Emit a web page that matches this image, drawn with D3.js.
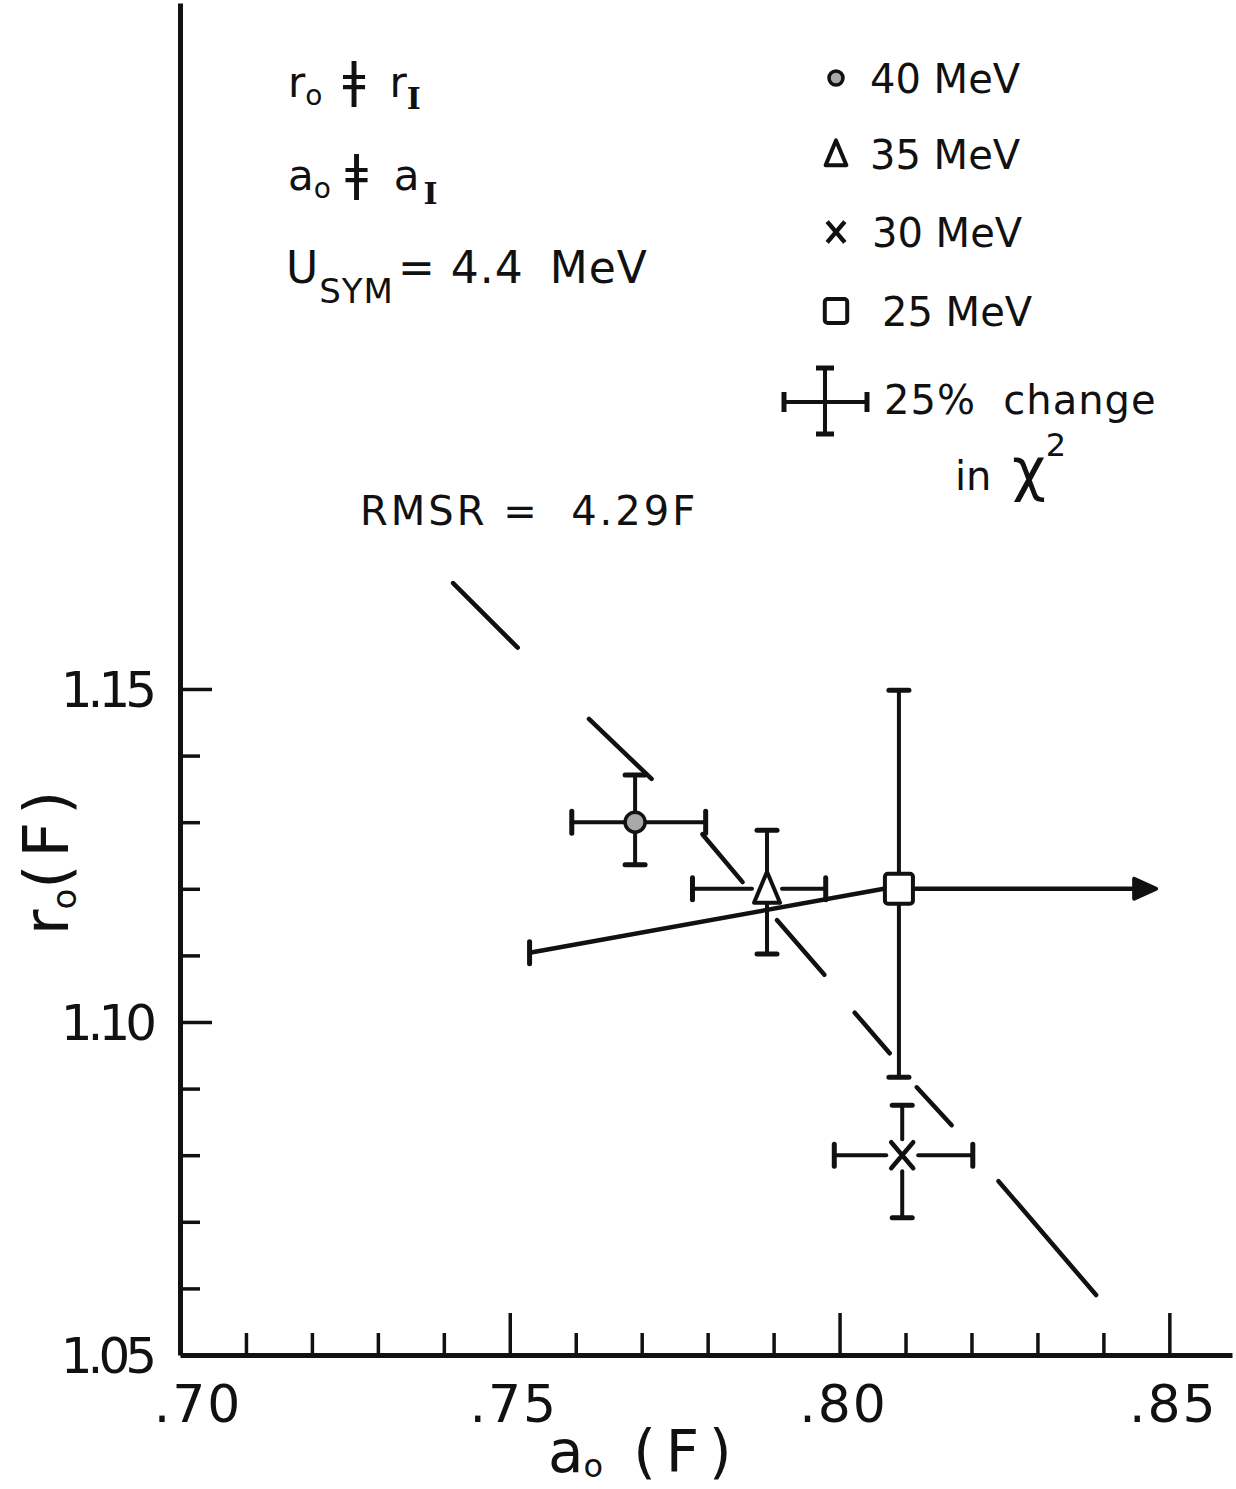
<!DOCTYPE html>
<html>
<head>
<meta charset="utf-8">
<script src="https://cdn.jsdelivr.net/npm/d3@7"></script>
<style>
  body { margin: 0; background: #fff; }
  text { font-family: "DejaVu Sans", sans-serif; fill: #111; }
</style>
</head>
<body>
<div id="chart"></div>
<script>
// best-fit points, one per beam energy
var energies = ['40 MeV', '35 MeV', '30 MeV', '25 MeV'];
var symbols  = ['circle', 'triangle', 'cross', 'square'];
var a0       = [0.769, 0.789, 0.8095, 0.809];
var r0       = [1.130, 1.120, 1.080, 1.120];
// 25% change in chi^2 limits
var a0Lo     = [0.7594, 0.7777, 0.7992, 0.753];
var a0Hi     = [0.7797, 0.7979, 0.8202, 0.848];
var r0Lo     = [1.1236, 1.1102, 1.0706, 1.0917];
var r0Hi     = [1.1371, 1.1288, 1.0875, 1.1498];
var r0AtA0Lo = [1.130, 1.120, 1.080, 1.1104];   // left limit of 25 MeV is tilted
var openHigh = [false, false, false, true];     // 25 MeV upper a0 limit not reached

// constant RMSR = 4.29 F line, hand dashed
var rmsrA0 = [[0.7414, 0.7512], [0.7620, 0.7715], [0.7792, 0.7853], [0.7905, 0.7977],
              [0.8023, 0.8076], [0.8117, 0.8170], [0.8241, 0.8389]];
var rmsrR0 = [[1.1659, 1.1562], [1.1455, 1.1365], [1.1282, 1.1210], [1.1153, 1.1071],
              [1.1014, 1.0953], [1.0902, 1.0845], [1.0761, 1.0590]];

var xMinor = d3.range(71, 86).map(d => d / 100).filter(d => Math.round(d * 100) % 5 != 0);
var xMajor = [0.75, 0.80, 0.85];
var xLabels = [0.70, 0.75, 0.80, 0.85];
var yMinor = [1.06, 1.07, 1.08, 1.09, 1.11, 1.12, 1.13, 1.14];
var yMajor = [1.10, 1.15];
var yLabels = [1.05, 1.10, 1.15];

var width = 1236, height = 1489;
var svg = d3.select('#chart').append('svg')
    .attr('width', width)
    .attr('height', height);

var xScale = d3.scaleLinear().domain([0.70, 0.8595]).range([180, 1232]);
var yScale = d3.scaleLinear().domain([1.05, 1.253]).range([1355, 3]);
var x0 = 1355;

function styleAxis(g, w) {
  g.select('.domain').attr('stroke', '#111').attr('stroke-width', w);
  g.selectAll('.tick line').attr('stroke', '#111').attr('stroke-width', 3.5);
}

// x axis: minor ticks, major ticks, labels
svg.append('g')
    .attr('transform', `translate(0,${x0})`)
    .call(d3.axisBottom(xScale).tickValues(xMinor).tickSize(-22).tickSizeOuter(0).tickFormat(''))
    .call(g => styleAxis(g, 5));
svg.append('g')
    .attr('transform', `translate(0,${x0})`)
    .call(d3.axisBottom(xScale).tickValues(xMajor).tickSize(-42).tickSizeOuter(0).tickFormat(''))
    .call(g => g.select('.domain').remove())
    .call(g => styleAxis(g, 5));
svg.append('g')
    .selectAll('text')
    .data(xLabels)
    .enter()
    .append('text')
    .attr('x', (d, i) => xScale(d) + (i == 0 ? 18 : 4))
    .attr('y', 1422)
    .attr('text-anchor', 'middle')
    .attr('font-size', 52)
    .attr('letter-spacing', 2)
    .text(d => d3.format('.2f')(d).replace('0.', '.'));

// y axis
svg.append('g')
    .attr('transform', `translate(${xScale(0.70)},0)`)
    .call(d3.axisLeft(yScale).tickValues(yMinor).tickSize(-20).tickSizeOuter(0).tickFormat(''))
    .call(g => styleAxis(g, 5));
svg.append('g')
    .attr('transform', `translate(${xScale(0.70)},0)`)
    .call(d3.axisLeft(yScale).tickValues(yMajor).tickSize(-32).tickSizeOuter(0).tickFormat(''))
    .call(g => g.select('.domain').remove())
    .call(g => styleAxis(g, 5));
svg.append('g')
    .selectAll('text')
    .data(yLabels)
    .enter()
    .append('text')
    .attr('x', 152)
    .attr('y', d => yScale(d) + 18)
    .attr('text-anchor', 'end')
    .attr('font-size', 50)
    .attr('letter-spacing', -5)
    .text(d => d3.format('.2f')(d));

// axis titles
var xt = svg.append('text')
    .attr('x', 548).attr('y', 1472)
    .attr('font-size', 58);
xt.append('tspan').text('a');
xt.append('tspan').attr('font-size', 32).attr('dy', 5).text('o');
xt.append('tspan').attr('dy', -5).attr('dx', 30).attr('letter-spacing', 10).text('(F)');

var yt = svg.append('text')
    .attr('transform', 'translate(68,935) rotate(-90)')
    .attr('font-size', 62);
yt.append('tspan').text('r');
yt.append('tspan').attr('font-size', 34).attr('dy', 8).text('o');
yt.append('tspan').attr('dy', -8).attr('letter-spacing', 7).text('(F)');

// dashed RMSR line
var plot = svg.append('g').attr('stroke', '#111').attr('stroke-linecap', 'round');
plot.selectAll('.rmsr')
    .data(rmsrA0)
    .enter()
    .append('line')
    .attr('class', 'rmsr')
    .attr('x1', (d, i) => xScale(d[0]))
    .attr('y1', (d, i) => yScale(rmsrR0[i][0]))
    .attr('x2', (d, i) => xScale(d[1]))
    .attr('y2', (d, i) => yScale(rmsrR0[i][1]))
    .attr('stroke-width', 4.5);

// error bars
var gaps = [10, 15, 16, 15];
var capV = 10, capH = 11;
energies.forEach(function(e, i) {
  var cx = xScale(a0[i]), cy = yScale(r0[i]);
  var g = plot.append('g').attr('stroke-width', 4);
  // vertical
  var top = yScale(r0Hi[i]), bot = yScale(r0Lo[i]);
  g.append('line').attr('x1', cx).attr('x2', cx).attr('y1', top).attr('y2', cy - gaps[i]);
  g.append('line').attr('x1', cx).attr('x2', cx).attr('y1', cy + gaps[i]).attr('y2', bot);
  g.append('line').attr('x1', cx - capV).attr('x2', cx + capV).attr('y1', top).attr('y2', top).attr('stroke-width', 5);
  g.append('line').attr('x1', cx - capV).attr('x2', cx + capV).attr('y1', bot).attr('y2', bot).attr('stroke-width', 5);
  // horizontal
  var lx = xScale(a0Lo[i]), ly = yScale(r0AtA0Lo[i]), rx = xScale(a0Hi[i]);
  g.append('line').attr('x1', lx).attr('y1', ly).attr('x2', cx - gaps[i]).attr('y2', cy)
      .attr('stroke-width', openHigh[i] ? 4.5 : 4);
  g.append('line').attr('x1', lx).attr('x2', lx).attr('y1', ly - capH).attr('y2', ly + capH).attr('stroke-width', 5);
  if (openHigh[i]) {
    g.append('line').attr('x1', cx + gaps[i]).attr('x2', rx - 14).attr('y1', cy).attr('y2', cy).attr('stroke-width', 4.5);
    g.append('path')
        .attr('d', `M${rx},${cy} L${rx - 22},${cy - 10} L${rx - 22},${cy + 10} Z`)
        .attr('fill', '#111').attr('stroke-linejoin', 'round');
  } else {
    g.append('line').attr('x1', cx + gaps[i]).attr('x2', rx).attr('y1', cy).attr('y2', cy);
    g.append('line').attr('x1', rx).attr('x2', rx).attr('y1', cy - capH).attr('y2', cy + capH).attr('stroke-width', 5);
  }
});

function drawMarker(g, type, cx, cy, s) {
  if (type == 'circle') {
    g.append('circle').attr('cx', cx).attr('cy', cy).attr('r', 10 * s)
        .attr('fill', '#a8a8a8').attr('stroke', '#111').attr('stroke-width', 3.5);
  } else if (type == 'triangle') {
    g.append('path')
        .attr('d', `M${cx},${cy - 17 * s} L${cx + 13 * s},${cy + 14 * s} L${cx - 13 * s},${cy + 14 * s} Z`)
        .attr('fill', '#fff').attr('stroke', '#111').attr('stroke-width', 4).attr('stroke-linejoin', 'round');
  } else if (type == 'cross') {
    g.append('path')
        .attr('d', `M${cx - 11 * s},${cy - 13 * s} L${cx + 11 * s},${cy + 13 * s} M${cx + 11 * s},${cy - 13 * s} L${cx - 11 * s},${cy + 13 * s}`)
        .attr('fill', 'none').attr('stroke', '#111').attr('stroke-width', 4.5);
  } else {
    g.append('rect').attr('x', cx - 14 * s).attr('y', cy - 15 * s).attr('width', 28 * s).attr('height', 30 * s)
        .attr('rx', 3).attr('fill', '#fff').attr('stroke', '#111').attr('stroke-width', 4);
  }
}

energies.forEach(function(e, i) {
  drawMarker(plot, symbols[i], xScale(a0[i]), yScale(r0[i]), 1);
});

// legend
var legendY = [78, 154, 232, 311];
var legendTextX = [870, 870, 872, 882];
var legend = svg.append('g');
energies.forEach(function(e, i) {
  var g = legend.append('g').attr('stroke', '#111');
  drawMarker(g, symbols[i], 836, legendY[i], i == 0 ? 0.7 : 0.8);
  legend.append('text')
      .attr('x', legendTextX[i])
      .attr('y', legendY[i] + 15)
      .attr('font-size', 40)
      .text(e);
});

// legend cross for 25% change
var lc = legend.append('g').attr('stroke', '#111').attr('stroke-width', 4);
lc.append('line').attr('x1', 784).attr('x2', 867).attr('y1', 402).attr('y2', 402);
lc.append('line').attr('x1', 784).attr('x2', 784).attr('y1', 392).attr('y2', 412).attr('stroke-width', 5);
lc.append('line').attr('x1', 867).attr('x2', 867).attr('y1', 392).attr('y2', 412).attr('stroke-width', 5);
lc.append('line').attr('x1', 825).attr('x2', 825).attr('y1', 368).attr('y2', 434);
lc.append('line').attr('x1', 816).attr('x2', 834).attr('y1', 368).attr('y2', 368).attr('stroke-width', 5);
lc.append('line').attr('x1', 816).attr('x2', 834).attr('y1', 434).attr('y2', 434).attr('stroke-width', 5);
legend.append('text').attr('x', 884).attr('y', 414).attr('font-size', 40)
    .attr('xml:space', 'preserve').attr('letter-spacing', 1).text('25%  change');
var chi = legend.append('text').attr('x', 955).attr('y', 490).attr('font-size', 40);
chi.append('tspan').text('in ');
chi.append('tspan').attr('font-size', 58).attr('dx', 8).text('χ');
chi.append('tspan').attr('font-size', 32).attr('dy', -34).text('2');

// parameter notes
var notes = svg.append('g');
var n1 = notes.append('text').attr('x', 288).attr('y', 97).attr('font-size', 42);
n1.append('tspan').text('r');
n1.append('tspan').attr('font-size', 28).attr('dy', 8).text('o');
n1.append('tspan').attr('dy', -8).attr('dx', 20).attr('font-size', 50).text('ǂ');
n1.append('tspan').attr('dx', 24).text('r');
n1.append('tspan').attr('font-size', 30).attr('dy', 12).attr('font-weight', 'bold').attr('font-family', 'DejaVu Serif').text('I');

var n2 = notes.append('text').attr('x', 288).attr('y', 190).attr('font-size', 42);
n2.append('tspan').text('a');
n2.append('tspan').attr('font-size', 28).attr('dy', 8).text('o');
n2.append('tspan').attr('dy', -8).attr('dx', 14).attr('font-size', 50).text('ǂ');
n2.append('tspan').attr('dx', 26).text('a');
n2.append('tspan').attr('font-size', 30).attr('dy', 14).attr('dx', 4).attr('font-weight', 'bold').attr('font-family', 'DejaVu Serif').text('I');

var n3 = notes.append('text').attr('x', 286).attr('y', 283).attr('font-size', 44).attr('letter-spacing', 1);
n3.append('tspan').text('U');
n3.append('tspan').attr('font-size', 34).attr('dy', 20).text('SYM');
n3.append('tspan').attr('dy', -20).attr('dx', 4).text('= 4.4');
n3.append('tspan').attr('dx', 26).text('MeV');

notes.append('text').attr('x', 360).attr('y', 525).attr('font-size', 40)
    .attr('letter-spacing', 3)
    .attr('xml:space', 'preserve').text('RMSR =  4.29F');
</script>
</body>
</html>
